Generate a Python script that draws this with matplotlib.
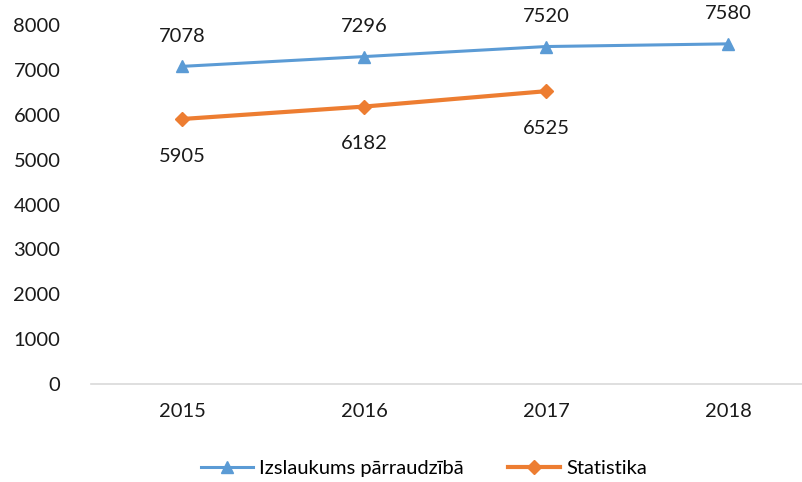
import matplotlib
matplotlib.use("Agg")
import matplotlib.pyplot as plt

years = ["2015", "2016", "2017", "2018"]
izslaukums = [7078, 7296, 7520, 7580]
statistika = [5905, 6182, 6525]
yticks = [0, 1000, 2000, 3000, 4000, 5000, 6000, 7000, 8000]

plt.rcParams['font.family'] = ['Lato', 'DejaVu Sans']

fig = plt.figure(figsize=(8.03, 4.82), dpi=100)
ax = fig.add_axes([91/803, 98/482, 728/803, 359/482])

blue = "#5B9BD5"
orange = "#ED7D31"
x1 = list(range(len(izslaukums)))
x2 = list(range(len(statistika)))
ax.plot(x1, izslaukums, color=blue, lw=2.2, marker='^', ms=8, label="Izslaukums pārraudzībā")
ax.plot(x2, statistika, color=orange, lw=3, marker='D', ms=7, label="Statistika")

for x, v in zip(x1, izslaukums):
    ax.annotate(str(v), (x, v), xytext=(0, 30), textcoords='offset pixels',
                ha='center', va='center', fontsize=14.5, color='#1a1a1a')
for x, v in zip(x2, statistika):
    ax.annotate(str(v), (x, v), xytext=(0, -37), textcoords='offset pixels',
                ha='center', va='center', fontsize=14.5, color='#1a1a1a')

ax.set_xlim(-0.5, 3.5)
ax.set_ylim(0, 8000)
ax.set_xticks(x1)
ax.set_xticklabels(years)
ax.set_yticks(yticks)
ax.tick_params(axis='both', length=0, labelsize=14.5, colors='#1a1a1a')
ax.tick_params(axis='y', pad=22)
ax.tick_params(axis='x', pad=14)
for s in ['top', 'right', 'left']:
    ax.spines[s].set_visible(False)
ax.spines['bottom'].set_color('#d9d9d9')
ax.spines['bottom'].set_linewidth(1.2)

fig.legend(loc='center', bbox_to_anchor=(424/803, 1 - 468/482), ncol=2, frameon=False,
           fontsize=14.5, handlelength=2.6, columnspacing=2.2, handletextpad=0.3)

fig.savefig("out.png", dpi=100)
